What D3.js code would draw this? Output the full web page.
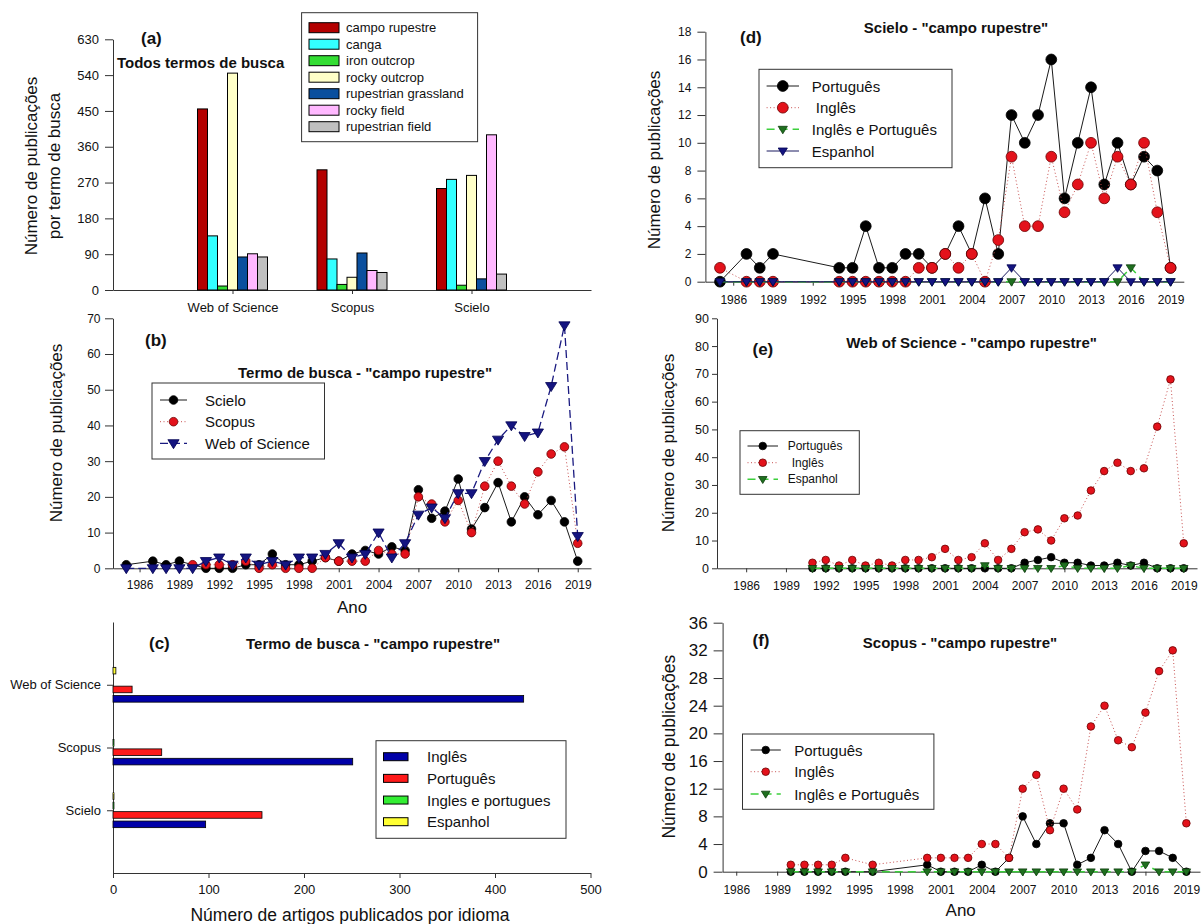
<!DOCTYPE html>
<html>
<head>
<meta charset="utf-8">
<script src="https://cdn.jsdelivr.net/npm/d3@7"></script>
<style>
  body { margin: 0; background: #fff; }
  svg { font-family: "Liberation Sans", Arial, Helvetica, sans-serif; }
</style>
</head>
<body>
<svg id="chart" width="1204" height="924"></svg>
<script>
// ---------- data ----------
// (a) all search terms per database
const sourcesA = ['Web of Science', 'Scopus', 'Scielo'];
const termsA = ['campo rupestre', 'canga', 'iron outcrop', 'rocky outcrop', 'rupestrian grassland', 'rocky field', 'rupestrian field'];
const wosTermsA = [455, 136, 10, 545, 83, 91, 83];
const scopusTermsA = [302, 78, 14, 32, 93, 49, 44];
const scieloTermsA = [255, 278, 12, 288, 28, 390, 40];
const termColorsA = ['#b30000', '#33ffff', '#33dd33', '#ffffc8', '#0a4f9e', '#ffb8ff', '#c0c0c0'];

// (b) "campo rupestre" per year and database
const bScieloYears = [1985, 1987, 1988, 1989, 1991, 1992, 1993, 1994, 1995, 1996, 1997, 1998, 1999, 2000, 2001, 2002, 2003, 2004, 2005, 2006, 2007, 2008, 2009, 2010, 2011, 2012, 2013, 2014, 2015, 2016, 2017, 2018, 2019];
const bScielo = [1, 2, 1, 2, 0, 0, 0, 1, 1, 4, 1, 1, 2, 3, 2, 4, 5, 4, 6, 5, 22, 14, 16, 25, 11, 17, 24, 13, 20, 15, 19, 13, 2];
const bScopusYears = [1990, 1991, 1992, 1993, 1994, 1995, 1996, 1997, 1998, 1999, 2000, 2001, 2002, 2003, 2004, 2005, 2006, 2007, 2008, 2009, 2010, 2011, 2012, 2013, 2014, 2015, 2016, 2017, 2018, 2019];
const bScopus = [1, 1, 1, 1, 2, 0, 1, 0, 0, 0, 3, 2, 2, 2, 5, 4, 4, 20, 18, 13, 19, 10, 23, 30, 23, 18, 27, 32, 34, 7];
const bWosYears = [1985, 1987, 1988, 1989, 1990, 1991, 1992, 1993, 1994, 1995, 1996, 1997, 1998, 1999, 2000, 2001, 2002, 2003, 2004, 2005, 2006, 2007, 2008, 2009, 2010, 2011, 2012, 2013, 2014, 2015, 2016, 2017, 2018, 2019];
const bWos = [0, 0, 0, 0, 0, 2, 3, 1, 3, 1, 2, 1, 3, 3, 4, 7, 3, 4, 10, 3, 7, 15, 17, 14, 21, 21, 30, 36, 40, 37, 38, 51, 68, 9];

// (c) articles per language
const sourcesC = ['Web of Science', 'Scopus', 'Scielo'];
const langsC = ['Inglês', 'Português', 'Ingles e portugues', 'Espanhol'];
const inglesC = [430, 251, 97];
const portuguesC = [20, 51, 156];
const inglesPortC = [0, 1, 1];
const espanholC = [3, 0, 1];
const langColorsC = ['#0000a8', '#ff1a1a', '#33ee33', '#ffff33'];

// (d) Scielo per language
const dYears = [1985, 1987, 1988, 1989, 1994, 1995, 1996, 1997, 1998, 1999, 2000, 2001, 2002, 2003, 2004, 2005, 2006, 2007, 2008, 2009, 2010, 2011, 2012, 2013, 2014, 2015, 2016, 2017, 2018, 2019];
const dPortugues = [0, 2, 1, 2, 1, 1, 4, 1, 1, 2, 2, 1, 2, 4, 2, 6, 2, 12, 10, 12, 16, 6, 10, 14, 7, 10, 7, 9, 8, 1];
const dIngles = [1, 0, 0, 0, 0, 0, 0, 0, 0, 0, 1, 1, 2, 1, 2, 0, 3, 9, 4, 4, 9, 5, 7, 10, 6, 9, 7, 10, 5, 1];
const dInglesPort = [0, 0, 0, 0, 0, 0, 0, 0, 0, 0, 0, 0, 0, 0, 0, 0, 0, 0, 0, 0, 0, 0, 0, 0, 0, 0, 1, 0, 0, 0];
const dEspanhol = [0, 0, 0, 0, 0, 0, 0, 0, 0, 0, 0, 0, 0, 0, 0, 0, 0, 1, 0, 0, 0, 0, 0, 0, 0, 1, 0, 0, 0, 0];

// (e) Web of Science per language
const eYears = [1991, 1992, 1993, 1994, 1995, 1996, 1997, 1998, 1999, 2000, 2001, 2002, 2003, 2004, 2005, 2006, 2007, 2008, 2009, 2010, 2011, 2012, 2013, 2014, 2015, 2016, 2017, 2018, 2019];
const ePortugues = [0, 0, 0, 0, 0, 0, 0, 0, 0, 0, 0, 0, 0, 0, 0, 0, 2, 3, 4, 2, 2, 1, 1, 2, 1, 2, 0, 0, 0];
const eIngles = [2, 3, 1, 3, 1, 2, 1, 3, 3, 4, 7, 3, 4, 9, 3, 7, 13, 14, 10, 18, 19, 28, 35, 38, 35, 36, 51, 68, 9];
const eEspanhol = [0, 0, 0, 0, 0, 0, 0, 0, 0, 0, 0, 0, 0, 1, 0, 0, 0, 0, 0, 1, 0, 0, 0, 0, 1, 0, 0, 0, 0];

// (f) Scopus per language
const fYears = [1990, 1991, 1992, 1993, 1994, 1996, 2000, 2001, 2002, 2003, 2004, 2005, 2006, 2007, 2008, 2009, 2010, 2011, 2012, 2013, 2014, 2015, 2016, 2017, 2018, 2019];
const fPortugues = [0, 0, 0, 0, 0, 0, 1, 0, 0, 0, 1, 0, 2, 8, 4, 7, 7, 1, 2, 6, 4, 0, 3, 3, 2, 0];
const fIngles = [1, 1, 1, 1, 2, 1, 2, 2, 2, 2, 4, 4, 2, 12, 14, 6, 12, 9, 21, 24, 19, 18, 23, 29, 32, 7];
const fInglesPort = [0, 0, 0, 0, 0, 0, 0, 0, 0, 0, 0, 0, 0, 0, 0, 0, 0, 0, 0, 0, 0, 0, 1, 0, 0, 0];

// tick labels
const yearTicks = [1986, 1989, 1992, 1995, 1998, 2001, 2004, 2007, 2010, 2013, 2016, 2019];
const ticksA = [0, 90, 180, 270, 360, 450, 540, 630];
const ticksB = [0, 10, 20, 30, 40, 50, 60, 70];
const ticksC = [0, 100, 200, 300, 400, 500];
const ticksD = [0, 2, 4, 6, 8, 10, 12, 14, 16, 18];
const ticksE = [0, 10, 20, 30, 40, 50, 60, 70, 80, 90];
const ticksF = [0, 4, 8, 12, 16, 20, 24, 28, 32, 36];

// ---------- drawing ----------
const FONT = '"Liberation Sans", Arial, Helvetica, sans-serif';
const svg = d3.select('#chart');

// series looks
const stBlack = { shape: 'circle', fill: '#000', stroke: '#000', line: '#000', dash: null, lw: 0.9 };
const stRed = { shape: 'circle', fill: '#e3121b', stroke: '#6b0000', line: '#c85050', dash: '1,2.5', lw: 1 };
const stNavyDash = { shape: 'tri', fill: '#141480', stroke: '#000050', line: '#1a1a80', dash: '8,4', lw: 1.3 };
const stNavy = { shape: 'tri', fill: '#141480', stroke: '#000050', line: '#1a1a60', dash: null, lw: 1 };
const stGreen = { shape: 'tri', fill: '#1f6f1f', stroke: '#0c3d0c', line: '#3ccf3c', dash: '8,5', lw: 1.5 };

function fixAxis(g, size) {
  g.attr('font-family', FONT).attr('font-size', size);
  g.selectAll('path, line').attr('stroke', '#333').attr('stroke-width', 1);
  g.selectAll('text').attr('fill', '#111');
}

function label(x, y, txt, size, opts) {
  opts = opts || {};
  const t = svg.append('text')
    .attr('x', x).attr('y', y)
    .attr('font-size', size)
    .attr('font-weight', opts.bold ? 'bold' : null)
    .attr('text-anchor', opts.anchor || 'start')
    .attr('dominant-baseline', 'central')
    .attr('fill', '#111')
    .text(txt);
  if (opts.rotate) {
    t.attr('x', 0).attr('y', 0).attr('transform', `translate(${x},${y}) rotate(-90)`);
  }
  return t;
}

function triPath(w, h) {
  return `M${-w},${-h * 0.4}L${w},${-h * 0.4}L0,${h * 0.6}Z`;
}

function addMarks(g, pts, st, m) {
  if (st.shape === 'circle') {
    g.selectAll(null).data(pts).join('circle')
      .attr('cx', d => d[0]).attr('cy', d => d[1]).attr('r', m.r)
      .attr('fill', st.fill).attr('stroke', st.stroke).attr('stroke-width', 0.8);
  } else {
    g.selectAll(null).data(pts).join('path')
      .attr('d', triPath(m.w, m.h))
      .attr('transform', d => `translate(${d[0]},${d[1]})`)
      .attr('fill', st.fill).attr('stroke', st.stroke).attr('stroke-width', 0.8);
  }
}

function linePanel(p) {
  const x = d3.scaleLinear().domain(p.xDomain).range(p.xRange);
  const y = d3.scaleLinear().domain([0, p.yTicks[p.yTicks.length - 1]]).range(p.yRange);
  const g = svg.append('g');

  g.append('g').attr('transform', `translate(0,${p.yRange[0]})`)
    .call(d3.axisBottom(x).tickValues(yearTicks).tickFormat(d3.format('d'))
      .tickSize(4).tickSizeOuter(0).tickPadding(p.xPad))
    .call(fixAxis, 12);
  g.append('g').attr('transform', `translate(${p.xRange[0]},0)`)
    .call(d3.axisLeft(y).tickValues(p.yTicks).tickSize(p.yTick).tickSizeOuter(0).tickPadding(p.yPad))
    .call(fixAxis, p.yFont);

  p.series.forEach(s => {
    const pts = s.years.map((yr, i) => [x(yr), y(s.values[i])]);
    g.append('path').datum(pts)
      .attr('d', d3.line())
      .attr('fill', 'none')
      .attr('stroke', s.st.line)
      .attr('stroke-width', s.st.lw)
      .attr('stroke-dasharray', s.st.dash);
    addMarks(g, pts, s.st, p.mark);
  });

  // legend
  const L = p.legend;
  g.append('rect').attr('x', L.x).attr('y', L.y).attr('width', L.w).attr('height', L.h)
    .attr('fill', '#fff').attr('stroke', '#333').attr('stroke-width', 1);
  p.series.forEach((s, i) => {
    const ry = L.rows[i];
    g.append('line').attr('x1', L.line[0]).attr('x2', L.line[1]).attr('y1', ry).attr('y2', ry)
      .attr('stroke', s.st.line).attr('stroke-width', s.st.lw).attr('stroke-dasharray', s.st.dash);
    addMarks(g, [[(L.line[0] + L.line[1]) / 2, ry]], s.st, p.mark);
    g.append('text').attr('x', L.textX + (s.dx || 0)).attr('y', ry)
      .attr('dominant-baseline', 'central').attr('font-size', L.font).attr('fill', '#111')
      .text(s.label);
  });
}

// ----- (a) -----
const xA = d3.scalePoint().domain(sourcesA).range([113, 591]).padding(1);
const yA = d3.scaleLinear().domain([0, 630]).range([290, 39.3]);
const subA = d3.scaleBand().domain(termsA).range([-35, 35]);
const gA = svg.append('g');
gA.append('g').attr('transform', 'translate(0,290)')
  .call(d3.axisBottom(xA).tickSize(4).tickSizeOuter(0).tickPadding(8.5))
  .call(fixAxis, 13);
gA.append('g').attr('transform', 'translate(113,0)')
  .call(d3.axisLeft(yA).tickValues(ticksA).tickSize(8).tickSizeOuter(0).tickPadding(6))
  .call(fixAxis, 13);
const rowsA = [wosTermsA, scopusTermsA, scieloTermsA];
sourcesA.forEach((src, j) => {
  gA.selectAll(null).data(termsA).join('rect')
    .attr('x', t => xA(src) + subA(t))
    .attr('width', subA.bandwidth())
    .attr('y', (t, i) => yA(rowsA[j][i]))
    .attr('height', (t, i) => yA(0) - yA(rowsA[j][i]))
    .attr('fill', (t, i) => termColorsA[i])
    .attr('stroke', '#000').attr('stroke-width', 1);
});
gA.append('rect').attr('x', 301.6).attr('y', 12.7).attr('width', 176).attr('height', 129)
  .attr('fill', '#fff').attr('stroke', '#333');
termsA.forEach((t, i) => {
  gA.append('rect').attr('x', 309).attr('y', 22.7 + i * 16.5).attr('width', 30).attr('height', 10)
    .attr('fill', termColorsA[i]).attr('stroke', '#000');
  gA.append('text').attr('x', 346).attr('y', 27.7 + i * 16.5).attr('dominant-baseline', 'central')
    .attr('font-size', 13).attr('fill', '#111').text(t);
});
label(141, 38, '(a)', 17, { bold: true });
label(117, 62, 'Todos termos de busca', 15, { bold: true });
label(31, 166, 'Número de publicações', 17, { anchor: 'middle', rotate: true });
label(54, 166, 'por termo de busca', 17, { anchor: 'middle', rotate: true });

// ----- (b) -----
linePanel({
  xDomain: [1984, 2020], xRange: [113, 591], yRange: [568.3, 318.3], yTicks: ticksB,
  xPad: 8.5, yTick: 8, yPad: 4.5, yFont: 12,
  mark: { r: 4.3, w: 5.6, h: 9 },
  series: [
    { years: bScieloYears, values: bScielo, st: stBlack, label: 'Scielo' },
    { years: bScopusYears, values: bScopus, st: stRed, label: 'Scopus' },
    { years: bWosYears, values: bWos, st: stNavyDash, label: 'Web of Science' }
  ],
  legend: { x: 152, y: 383, w: 172.5, h: 76, rows: [400, 421.7, 443.3], line: [160, 187], textX: 205, font: 15 }
});
label(145, 340, '(b)', 17, { bold: true });
label(365, 372, 'Termo de busca - "campo rupestre"', 15, { bold: true, anchor: 'middle' });
label(56.5, 433, 'Número de publicações', 17, { anchor: 'middle', rotate: true });
label(352, 607, 'Ano', 17, { anchor: 'middle' });

// ----- (c) -----
const xC = d3.scaleLinear().domain([0, 500]).range([113, 590.5]);
const yC = d3.scalePoint().domain(sourcesC).range([622, 873]).padding(1);
const subC = d3.scalePoint().domain(['Espanhol', 'Ingles e portugues', 'Português', 'Inglês']).range([-14.1, 14.1]);
const gC = svg.append('g');
gC.append('g').attr('transform', 'translate(0,873)')
  .call(d3.axisBottom(xC).tickValues(ticksC).tickSize(5).tickSizeOuter(0).tickPadding(6.5))
  .call(fixAxis, 13);
gC.append('g').attr('transform', 'translate(113,0)')
  .call(d3.axisLeft(yC).tickSize(6).tickSizeOuter(0).tickPadding(6))
  .call(fixAxis, 13);
const rowsC = [inglesC, portuguesC, inglesPortC, espanholC];
langsC.forEach((lang, li) => {
  gC.selectAll(null).data(sourcesC.filter((s, j) => rowsC[li][j] > 0)).join('rect')
    .attr('x', xC(0))
    .attr('width', s => xC(rowsC[li][sourcesC.indexOf(s)]) - xC(0))
    .attr('y', s => yC(s) + subC(lang) - 3.3)
    .attr('height', 6.6)
    .attr('fill', langColorsC[li])
    .attr('stroke', '#000').attr('stroke-width', 0.8);
});
gC.append('rect').attr('x', 376).attr('y', 740.7).attr('width', 190).attr('height', 97.6)
  .attr('fill', '#fff').attr('stroke', '#333');
langsC.forEach((lang, i) => {
  const ry = 756.7 + i * 21.67;
  gC.append('rect').attr('x', 383.5).attr('y', ry - 4).attr('width', 24.5).attr('height', 8)
    .attr('fill', langColorsC[i]).attr('stroke', '#000');
  gC.append('text').attr('x', 427).attr('y', ry).attr('dominant-baseline', 'central')
    .attr('font-size', 15).attr('fill', '#111').text(lang);
});
label(149, 643, '(c)', 17, { bold: true });
label(373, 643, 'Termo de busca - "campo rupestre"', 15, { bold: true, anchor: 'middle' });
label(350, 915, 'Número de artigos publicados por idioma', 17.5, { anchor: 'middle' });

// ----- (d) -----
linePanel({
  xDomain: [1983.9, 2020], xRange: [705.4, 1183.8], yRange: [281.7, 31.7], yTicks: ticksD,
  xPad: 10, yTick: 8, yPad: 6, yFont: 12,
  mark: { r: 5.4, w: 4.6, h: 7.5 },
  series: [
    { years: dYears, values: dPortugues, st: stBlack, label: 'Português' },
    { years: dYears, values: dIngles, st: stRed, label: 'Inglês', dx: 4 },
    { years: dYears, values: dInglesPort, st: stGreen, label: 'Inglês e Português' },
    { years: dYears, values: dEspanhol, st: stNavy, label: 'Espanhol' }
  ],
  legend: { x: 759, y: 69.3, w: 193, h: 98.4, rows: [86, 107.7, 129.3, 151], line: [766.6, 799], textX: 811.8, font: 15 }
});
label(740, 37, '(d)', 17, { bold: true });
label(956, 27.3, 'Scielo - "campo rupestre"', 15, { bold: true, anchor: 'middle' });
label(654, 160, 'Número de publicações', 17, { anchor: 'middle', rotate: true });

// ----- (e) -----
linePanel({
  xDomain: [1983.8, 2020], xRange: [717, 1197], yRange: [568.3, 318.3], yTicks: ticksE,
  xPad: 9.5, yTick: 5, yPad: 3, yFont: 12.5,
  mark: { r: 3.8, w: 4.3, h: 7 },
  series: [
    { years: eYears, values: ePortugues, st: stBlack, label: 'Português' },
    { years: eYears, values: eIngles, st: stRed, label: 'Inglês', dx: 4 },
    { years: eYears, values: eEspanhol, st: stGreen, label: 'Espanhol' }
  ],
  legend: { x: 740, y: 430.7, w: 119.3, h: 63.6, rows: [446, 462.7, 479.3], line: [747.5, 778], textX: 787.7, font: 12 }
});
label(752.5, 349, '(e)', 17, { bold: true });
label(971.5, 342, 'Web of Science - "campo rupestre"', 15, { bold: true, anchor: 'middle' });
label(668, 443, 'Número de publicações', 17, { anchor: 'middle', rotate: true });

// ----- (f) -----
linePanel({
  xDomain: [1985, 2020], xRange: [722.6, 1200], yRange: [871.7, 622.7], yTicks: ticksF,
  xPad: 10, yTick: 9, yPad: 6, yFont: 17,
  mark: { r: 3.8, w: 4.3, h: 7 },
  series: [
    { years: fYears, values: fPortugues, st: stBlack, label: 'Português' },
    { years: fYears, values: fIngles, st: stRed, label: 'Inglês' },
    { years: fYears, values: fInglesPort, st: stGreen, label: 'Inglês e Português' }
  ],
  legend: { x: 742.5, y: 734, w: 191.4, h: 75.3, rows: [750, 771.7, 794], line: [750.6, 780.8], textX: 794.2, font: 15 }
});
label(752.5, 640.7, '(f)', 17, { bold: true });
label(960, 642, 'Scopus - "campo rupestre"', 15, { bold: true, anchor: 'middle' });
label(669, 746.7, 'Número de publicações', 17.5, { anchor: 'middle', rotate: true });
label(960.7, 910, 'Ano', 17, { anchor: 'middle' });
</script>
</body>
</html>
